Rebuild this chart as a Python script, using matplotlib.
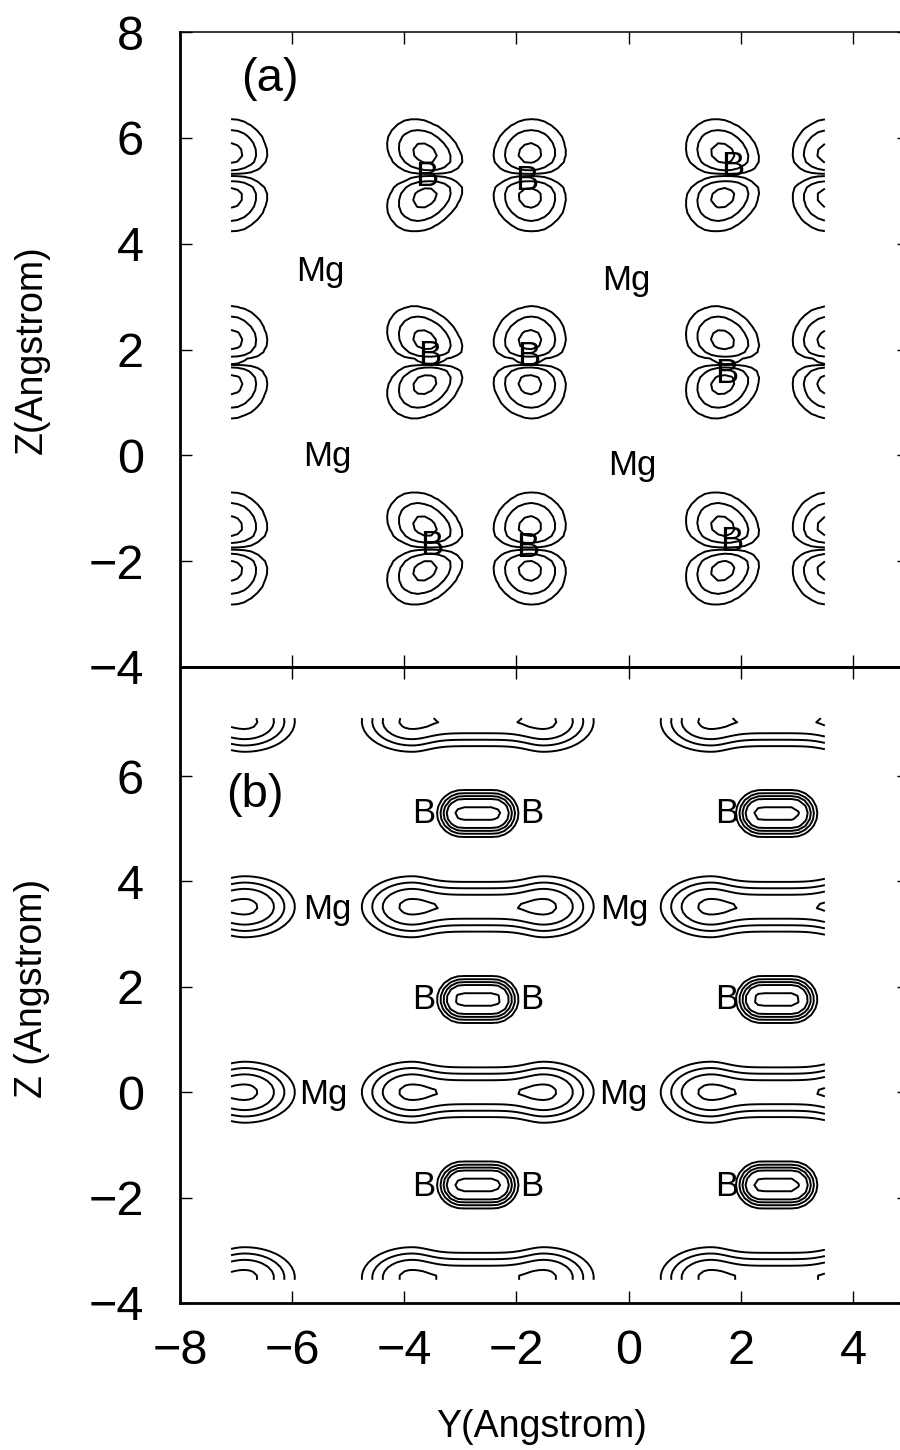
import numpy as np
import matplotlib
matplotlib.use("Agg")
import matplotlib.pyplot as plt

plt.rcParams['font.family'] = ['Liberation Sans', 'DejaVu Sans']

# ---------------- data ----------------
# panel (a): B p-orbital columns (Y) and B-layer heights (Z)
b_cols_y = [-7.09, -3.63, -1.76, 1.68, 3.57]
b_lean = [0.0, -0.30, 0.05, -0.20, 0.0]
b_layers_z = [-1.76, 1.76, 5.29]

# panel (b): Mg rows (Z), Mg-region blob centres (Y), B-B bond centres
mg_rows_z = [-3.52, 0.0, 3.52, 7.04]
mg_blob_y = [-8.02, -2.69, 2.64]
bond_y = [-2.69, 2.64]
bond_z = [-1.76, 1.76, 5.29]

# region where the density was computed
grid_y = [-7.09, 3.5]
grid_z = [-3.56, 7.1]

# labels
a_B_pos = [(-3.60, 5.26), (-1.82, 5.20), (1.86, 5.45),
           (-3.54, 1.89), (-1.79, 1.86), (1.75, 1.55),
           (-3.51, -1.70), (-1.80, -1.75), (1.84, -1.62)]
a_Mg_pos = [(-5.50, 3.47), (-0.04, 3.31), (-5.38, -0.03), (0.06, -0.19)]
b_B_pos = [(-3.66, 5.29), (-1.73, 5.29), (1.75, 5.29),
           (-3.66, 1.76), (-1.73, 1.76), (1.75, 1.76),
           (-3.66, -1.78), (-1.73, -1.78), (1.75, -1.78)]
b_Mg_pos = [(-5.38, 3.46), (-0.07, 3.46), (-5.45, -0.05), (-0.10, -0.05)]

y_ticks = [-8, -6, -4, -2, 0, 2, 4]
z_ticks_a = [-4, -2, 0, 2, 4, 6, 8]
z_ticks_b = [-4, -2, 0, 2, 4, 6]

levels_a = [0.045, 0.22, 0.72]
levels_mg = [-4.90, -3.92, -2.95, -1.50]
levels_bond = [-7.45, -6.43, -5.52, -4.60, -2.06]

# ---------------- fields ----------------
Ya, Za = np.meshgrid(np.linspace(grid_y[0], grid_y[1], 90),
                     np.linspace(grid_z[0], grid_z[1], 90))
Yb, Zb = np.meshgrid(np.linspace(grid_y[0], grid_y[1], 134),
                     np.linspace(grid_z[0], grid_z[1], 134))


def field_a(Y, Z):
    D = np.zeros_like(Y)
    c, ax_, az_in, az_out, kap = 0.40, 0.36, 0.30, 0.37, 0.12
    for y0, lean in zip(b_cols_y, b_lean):
        for z0 in b_layers_z:
            u = np.abs(Z - z0)
            dx = Y - y0 - lean * (u - c)
            az = np.where(u < c, az_in, az_out)
            g = np.exp(-(dx / ax_) ** 2 - ((u - c) / az) ** 2)
            node = 1 - np.exp(-(u / kap) ** 2)
            D += g * node
    return D


def field_mg(Y, Z):
    G = np.full_like(Y, -50.0)
    h, dip, wp, sx, eps = 1.17, 0.88, 0.40, 1.55, 0.10
    for z0 in mg_rows_z:
        for xm in mg_blob_y:
            dx = np.abs(Y - xm)
            out = np.maximum(0, dx - h) / sx
            inn = np.maximum(0, h - dx)
            A = -dip * (1 - np.exp(-(inn / wp) ** 2))
            g = A - np.sqrt(out ** 2 + (Z - z0) ** 2 + eps ** 2) / 0.12
            G = np.maximum(G, g)
    return G


def field_bond(Y, Z):
    G = np.full_like(Y, -50.0)
    for z0 in bond_z:
        for y0 in bond_y:
            dx = np.maximum(0, np.abs(Y - y0) - 0.28)
            g = -np.sqrt(dx ** 2 + (Z - z0) ** 2 + 0.03 ** 2) / 0.06
            G = np.maximum(G, g)
    return G


# ---------------- figure ----------------
fig = plt.figure(figsize=(9, 14.5), dpi=100)
ax1 = fig.add_axes([0.2, 0.54, 0.81, 0.43793])
ax2 = fig.add_axes([0.2, 0.10138, 0.81, 0.43862])

lw = 1.4
ax1.contour(Ya, Za, field_a(Ya, Za), levels=levels_a, colors='black',
            linewidths=lw, linestyles='solid')
ax2.contour(Yb, Zb, field_mg(Yb, Zb), levels=levels_mg, colors='black',
            linewidths=lw, linestyles='solid')
ax2.contour(Ya, Za, field_bond(Ya, Za), levels=levels_bond, colors='black',
            linewidths=lw, linestyles='solid')

fs_lab = 25
for (x, z) in a_B_pos:
    ax1.text(x, z, 'B', fontsize=fs_lab, ha='center', va='center')
for (x, z) in a_Mg_pos:
    ax1.text(x, z, 'Mg', fontsize=fs_lab, ha='center', va='center')
for (x, z) in b_B_pos:
    ax2.text(x, z, 'B', fontsize=fs_lab, ha='center', va='center')
for (x, z) in b_Mg_pos:
    ax2.text(x, z, 'Mg', fontsize=fs_lab, ha='center', va='center')
ax1.text(-6.40, 7.12, '(a)', fontsize=34, ha='center', va='center')
ax2.text(-6.66, 5.64, '(b)', fontsize=34, ha='center', va='center')

for ax, zt, ylim in ((ax1, z_ticks_a, (-4, 8)), (ax2, z_ticks_b, (-4, 8.07))):
    ax.set_xlim(-8, 5)
    ax.set_ylim(*ylim)
    ax.set_xticks(y_ticks)
    ax.set_yticks(zt)
    ax.tick_params(direction='in', length=8.5, width=1.0, top=True, right=True,
                   labelsize=35)
    ax.tick_params(axis='y', pad=26)
    ax.tick_params(axis='x', pad=19)
    ax.spines['right'].set_visible(False)
    ax.spines['left'].set_linewidth(2.0)
    ax.spines['bottom'].set_linewidth(2.0)
    ax.set_facecolor('none')

ax1.spines['top'].set_linewidth(1.1)
ax2.spines['top'].set_linewidth(2.0)
ax1.tick_params(axis='x', labelbottom=False)

fig.text(32 / 900, 1 - 350 / 1450, 'Z(Angstrom)', rotation=90, fontsize=27,
         ha='center', va='center')
fig.text(32 / 900, 1 - 988 / 1450, 'Z (Angstrom)', rotation=90, fontsize=27,
         ha='center', va='center')
fig.text(542 / 900, 1 - 1437 / 1450, 'Y(Angstrom)', fontsize=27,
         ha='center', va='baseline')

fig.savefig('out.png', dpi=100)
